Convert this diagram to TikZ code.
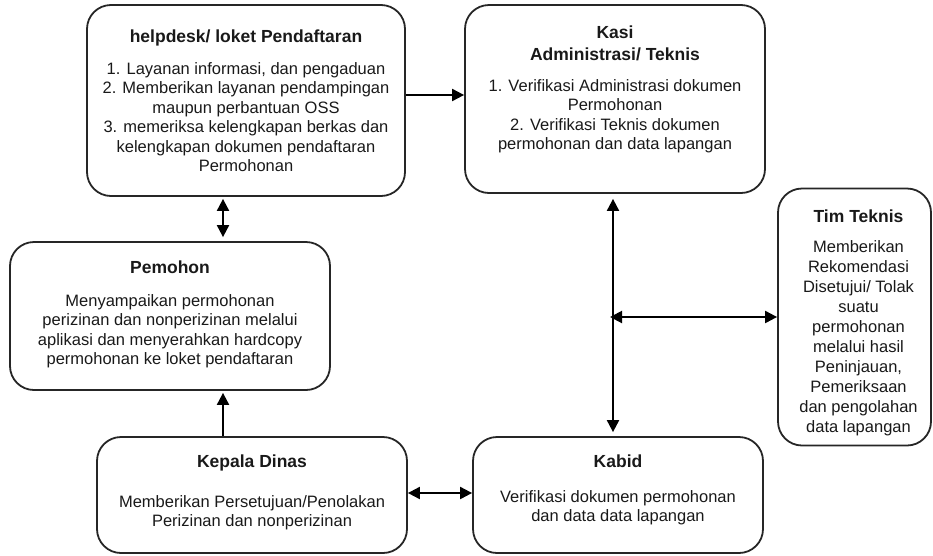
\documentclass[tikz,border=0pt]{standalone}
\usepackage{fontspec}
\setmainfont{Liberation Sans}
\usetikzlibrary{arrows.meta,positioning}

\newcommand{\judul}[1]{{\fontsize{17.5}{19.5}\selectfont\textbf{#1}}}

\begin{document}
\begin{tikzpicture}[x=1pt,y=-1pt,
        box/.style={draw=black!85,line width=1.8pt,rounded corners=24pt,inner sep=0pt},
        txt/.style={align=center,inner sep=0pt,text=black!90,font=\fontsize{16.5}{19.5}\selectfont},
        arr/.style={line width=2pt,-{Triangle[length=12pt,width=12pt]}},
        darr/.style={line width=2pt,{Triangle[length=12pt,width=12pt]}-{Triangle[length=12pt,width=12pt]}}]
        \useasboundingbox (0,0) rectangle (933,555);
        % kotak
        \node[box,minimum width=318pt,minimum height=191pt] (helpdesk) at (246,100.5) {};
        \node[box,minimum width=300pt,minimum height=188pt] (kasi) at (615,99) {};
        \node[box,minimum width=153pt,minimum height=257pt] (tim) at (854.5,317) {};
        \node[box,minimum width=320pt,minimum height=148pt] (pemohon) at (170,316) {};
        \node[box,minimum width=310pt,minimum height=116pt] (kepala) at (252,495) {};
        \node[box,minimum width=290pt,minimum height=116pt] (kabid) at (618,495) {};
        % teks
        \node[txt] (helpdesk-t) at (helpdesk) {\judul{helpdesk/ loket Pendaftaran}\\[12.5pt]
                1. Layanan informasi, dan pengaduan\\
                2. Memberikan layanan pendampingan\\
                maupun perbantuan OSS\\
                3. memeriksa kelengkapan berkas dan\\
                kelengkapan dokumen pendaftaran\\
                Permohonan};
        \node[txt] (kasi-t) at ([yshift=9.5pt]kasi.center) {\judul{Kasi}\\[2.5pt]
                \judul{Administrasi/ Teknis}\\[11.5pt]
                1. Verifikasi Administrasi dokumen\\
                Permohonan\\
                2. Verifikasi Teknis dokumen\\
                permohonan dan data lapangan};
        \node[txt] (tim-t) at ([xshift=4pt,yshift=-6pt]tim.center) {\judul{Tim Teknis}\\[11pt]
                Memberikan\\[0.5pt] Rekomendasi\\[0.5pt] Disetujui/ Tolak\\[0.5pt] suatu\\[0.5pt]
                permohonan\\[0.5pt] melalui hasil\\[0.5pt] Peninjauan,\\[0.5pt] Pemeriksaan\\[0.5pt]
                dan pengolahan\\[0.5pt] data lapangan};
        \node[txt] (pemohon-t) at ([yshift=1.5pt]pemohon.center) {\judul{Pemohon}\\[13.5pt]
                Menyampaikan permohonan\\
                perizinan dan nonperizinan melalui\\
                aplikasi dan menyerahkan hardcopy\\
                permohonan ke loket pendaftaran};
        \node[txt] (kepala-t) at ([yshift=2.5pt]kepala.center) {\judul{Kepala Dinas}\\[20.5pt]
                Memberikan Persetujuan/Penolakan\\
                Perizinan dan nonperizinan};
        \node[txt] (kabid-t) at ([yshift=5pt]kabid.center) {\judul{Kabid}\\[15.5pt]
                Verifikasi dokumen permohonan\\
                dan data data lapangan};
        % panah
        \coordinate (junc) at ([xshift=-5pt]kasi.south |- tim.west);
        \draw[arr] ([yshift=5.5pt]helpdesk.east) -- ([yshift=5.5pt]helpdesk.east -| kasi.west);
        \draw[darr,shorten <=2pt,shorten >=4pt] ([xshift=-23pt]helpdesk.south) -- ([xshift=-23pt]helpdesk.south |- pemohon.north);
        \draw[arr,shorten >=2pt] ([xshift=-29pt]kepala.north) -- ([xshift=-29pt]kepala.north |- pemohon.south);
        \draw[darr,shorten <=5pt,shorten >=4pt] ([xshift=-2pt]kasi.south) -- ([xshift=-2pt]kasi.south |- kabid.north);
        \draw[darr] (junc) -- (tim.west);
        \draw[darr] ([yshift=2pt]kepala.east) -- ([yshift=2pt]kepala.east -| kabid.west);
\end{tikzpicture}
\end{document}
